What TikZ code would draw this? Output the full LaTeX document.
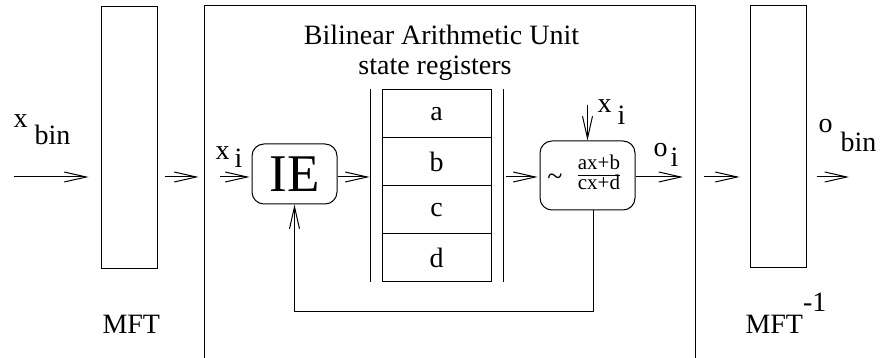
\documentclass[tikz,border=0pt]{standalone}
\usepackage{fontspec}
\setmainfont{Liberation Serif}
\usetikzlibrary{arrows.meta}
\begin{document}
\begin{tikzpicture}[x=1pt,y=-1pt, line width=1pt,
  font=\fontsize{28}{30}\selectfont,
  arr/.style={-{Straight Barb[length=22pt,width=10pt]}},
  box/.style={draw, rectangle, inner sep=0pt},
  lbl/.style={inner sep=0pt, anchor=base west},
  small/.style={inner sep=0pt, anchor=base, font=\fontsize{21}{21}\selectfont},
  cell/.style={draw, minimum width=109pt, minimum height=48pt, inner sep=0pt}]
\useasboundingbox (0,0) rectangle (884,358);
\coordinate (row) at (0,177);
% boxes
\node[box, minimum width=56pt, minimum height=262pt] (mft) at (129,138) {};
\node[box, minimum width=491pt, minimum height=420pt] (bau) at (449.5,216) {};
\node[box, minimum width=56pt, minimum height=262pt] (mfti) at (778,137) {};
\node[box, rounded corners=12pt, minimum width=85pt, minimum height=60pt, font=\fontsize{53}{53}\selectfont] (ie) at (294.5,174) {IE};
\node[cell] (ra) at (436.5,114) {a};
\node[cell] (rb) at (436.5,162) {b};
\node[cell] (rc) at (436.5,210) {c};
\node[cell] (rd) at (436.5,258) {d};
\node[box, rounded corners=12pt, minimum width=95pt, minimum height=69pt] (frac) at (587.5,175.5) {};
% fraction contents
\node[inner sep=0pt, anchor=base] (tilde) at (555,186) {\textasciitilde};
\node[small] (num) at (599,170) {ax+b};
\node[small] (den) at (599,190) {cx+d};
\draw[line width=0.8pt] (578,175) -- (620,175);
% labels
\node[lbl] (lxbin) at (13,128) {x \raisebox{-17pt}{bin}};
\node[lbl] (lxi) at (215,160) {x\hspace{5pt}\raisebox{-8pt}{i}};
\node[lbl] (lxi2) at (597,113) {x\hspace{6pt}\raisebox{-12pt}{i}};
\node[lbl] (loi) at (653,157) {o\hspace{3pt}\raisebox{-10pt}{i}};
\node[lbl] (lobin) at (818,133) {o\hspace{8pt}\raisebox{-19pt}{bin}};
\node[lbl] (lmft) at (102,333) {MFT};
\node[lbl] (lmfti) at (745,333) {MFT\raisebox{21pt}{-1}};
\node[inner sep=0pt, anchor=base] (title) at (441.5,45) {Bilinear Arithmetic Unit};
\node[inner sep=0pt, anchor=base] (sub) at (435,75) {state registers};
% register side bars
\draw ([xshift=-11pt]ra.north west) -- ([xshift=-11pt]rd.south west);
\draw ([xshift=12pt]ra.north east) -- ([xshift=12pt]rd.south east);
% connectors
\coordinate (in) at (14,177);
\draw[arr, shorten >=12pt] (in) -- (mft.west |- row);
\draw[arr, shorten <=7pt, shorten >=5pt] (mft.east |- row) -- (bau.west |- row);
\coordinate (xiin) at (220,177);
\draw[arr, shorten >=2pt] (xiin) -- (ie.west |- row);
\draw[arr, shorten >=1pt] (ie.east |- row) -- ([xshift=-11pt]rb.west |- row);
\draw[arr, shorten <=2pt, shorten >=2pt] ([xshift=12pt]rb.east |- row) -- (frac.west |- row);
\coordinate (xtop) at (587.5,105);
\draw[arr] (xtop) -- (frac.north);
\coordinate (oout) at (683,177);
\draw[arr] (frac.east |- row) -- (oout);
\draw[arr, shorten <=8pt, shorten >=10pt] (bau.east |- row) -- (mfti.west |- row);
\coordinate (out) at (849,177);
\draw[arr, shorten <=10pt] (mfti.east |- row) -- (out);
\draw[arr] ([xshift=5.5pt]frac.south) |- ([yshift=-107pt]ie.south) -- (ie.south);
\end{tikzpicture}
\end{document}
